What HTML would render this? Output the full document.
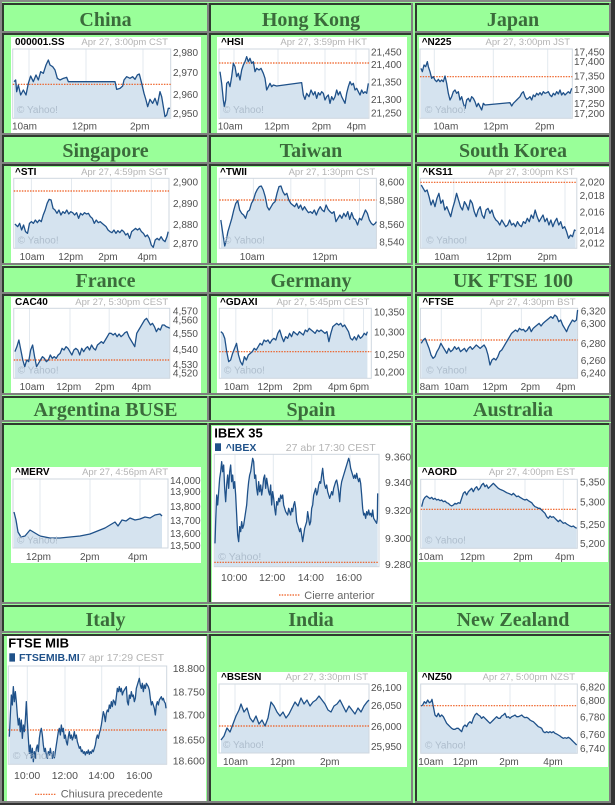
<!DOCTYPE html>
<html><head><meta charset="utf-8">
<style>
html,body{margin:0;padding:0;background:#99ff99;}
svg{display:block}
.hd{font:bold 20px "Liberation Serif",serif;fill:#3b6b3b;text-anchor:middle}
.sym{font:bold 10px "Liberation Sans",sans-serif;fill:#000}
.dt{font:9.5px "Liberation Sans",sans-serif;fill:#b4b4b4;text-anchor:end}
.ax{font:10px "Liberation Sans",sans-serif;fill:#505050}
.ax2{font:10.5px "Liberation Sans",sans-serif;fill:#505050}
.wm{font:10px "Liberation Sans",sans-serif;fill:#aebdcc}
.fl{fill:#d5e3ef}
.ln{fill:none;stroke:#1f5189;stroke-width:1.3;stroke-linejoin:round;vector-effect:non-scaling-stroke}
.gr{stroke:#e3e9ef;stroke-width:1}
.bd{fill:none;stroke:#cfd7df;stroke-width:1}
.rd{stroke:#ee5a1c;stroke-width:1.2;stroke-dasharray:1.5 1.2}
.big{font:bold 13px "Liberation Sans",sans-serif;fill:#000}
.bsym{font:bold 10.5px "Liberation Sans",sans-serif;fill:#1f5189}
.lg{font:11px "Liberation Sans",sans-serif;fill:#666}
</style></head>
<body>
<svg width="615" height="805" viewBox="0 0 615 805" xmlns="http://www.w3.org/2000/svg">
<!-- outer frame -->
<rect x="0" y="0" width="615" height="805" fill="#333"/>
<rect x="0" y="0" width="611" height="803" fill="#888"/>
<rect x="2" y="2" width="609" height="801" fill="#99ff99"/>

<!-- cells column 1 -->
<g>
<rect x="2" y="3" width="207" height="30" fill="#808080"/><rect x="2" y="3" width="205" height="28" fill="#2f3b2f"/><rect x="4" y="5" width="203" height="26" fill="#99ff99"/>
<rect x="2" y="33" width="207" height="102" fill="#808080"/><rect x="2" y="33" width="205" height="100" fill="#2f3b2f"/><rect x="4" y="35" width="203" height="98" fill="#99ff99"/>
<rect x="2" y="135" width="207" height="29" fill="#808080"/><rect x="2" y="135" width="205" height="27" fill="#2f3b2f"/><rect x="4" y="137" width="203" height="25" fill="#99ff99"/>
<rect x="2" y="164" width="207" height="101" fill="#808080"/><rect x="2" y="164" width="205" height="99" fill="#2f3b2f"/><rect x="4" y="166" width="203" height="97" fill="#99ff99"/>
<rect x="2" y="266" width="207" height="28" fill="#808080"/><rect x="2" y="266" width="205" height="26" fill="#2f3b2f"/><rect x="4" y="268" width="203" height="24" fill="#99ff99"/>
<rect x="2" y="294" width="207" height="101" fill="#808080"/><rect x="2" y="294" width="205" height="99" fill="#2f3b2f"/><rect x="4" y="296" width="203" height="97" fill="#99ff99"/>
<rect x="2" y="396" width="207" height="26" fill="#808080"/><rect x="2" y="396" width="205" height="24" fill="#2f3b2f"/><rect x="4" y="398" width="203" height="22" fill="#99ff99"/>
<rect x="2" y="423" width="207" height="181" fill="#808080"/><rect x="2" y="423" width="205" height="179" fill="#2f3b2f"/><rect x="4" y="425" width="203" height="177" fill="#99ff99"/>
<rect x="2" y="605" width="207" height="28" fill="#808080"/><rect x="2" y="605" width="205" height="26" fill="#2f3b2f"/><rect x="4" y="607" width="203" height="24" fill="#99ff99"/>
<rect x="2" y="634" width="207" height="169" fill="#808080"/><rect x="2" y="634" width="205" height="167" fill="#2f3b2f"/><rect x="4" y="636" width="203" height="165" fill="#99ff99"/>
</g>
<!-- cells column 2 -->
<g>
<rect x="209" y="3" width="204" height="30" fill="#808080"/><rect x="209" y="3" width="202" height="28" fill="#2f3b2f"/><rect x="211" y="5" width="200" height="26" fill="#99ff99"/>
<rect x="209" y="33" width="204" height="102" fill="#808080"/><rect x="209" y="33" width="202" height="100" fill="#2f3b2f"/><rect x="211" y="35" width="200" height="98" fill="#99ff99"/>
<rect x="209" y="135" width="204" height="29" fill="#808080"/><rect x="209" y="135" width="202" height="27" fill="#2f3b2f"/><rect x="211" y="137" width="200" height="25" fill="#99ff99"/>
<rect x="209" y="164" width="204" height="101" fill="#808080"/><rect x="209" y="164" width="202" height="99" fill="#2f3b2f"/><rect x="211" y="166" width="200" height="97" fill="#99ff99"/>
<rect x="209" y="266" width="204" height="28" fill="#808080"/><rect x="209" y="266" width="202" height="26" fill="#2f3b2f"/><rect x="211" y="268" width="200" height="24" fill="#99ff99"/>
<rect x="209" y="294" width="204" height="101" fill="#808080"/><rect x="209" y="294" width="202" height="99" fill="#2f3b2f"/><rect x="211" y="296" width="200" height="97" fill="#99ff99"/>
<rect x="209" y="396" width="204" height="26" fill="#808080"/><rect x="209" y="396" width="202" height="24" fill="#2f3b2f"/><rect x="211" y="398" width="200" height="22" fill="#99ff99"/>
<rect x="209" y="423" width="204" height="181" fill="#808080"/><rect x="209" y="423" width="202" height="179" fill="#2f3b2f"/><rect x="211" y="425" width="200" height="177" fill="#99ff99"/>
<rect x="209" y="605" width="204" height="28" fill="#808080"/><rect x="209" y="605" width="202" height="26" fill="#2f3b2f"/><rect x="211" y="607" width="200" height="24" fill="#99ff99"/>
<rect x="209" y="634" width="204" height="169" fill="#808080"/><rect x="209" y="634" width="202" height="167" fill="#2f3b2f"/><rect x="211" y="636" width="200" height="165" fill="#99ff99"/>
</g>
<!-- cells column 3 -->
<g>
<rect x="415" y="3" width="196" height="30" fill="#808080"/><rect x="415" y="3" width="194" height="28" fill="#2f3b2f"/><rect x="417" y="5" width="192" height="26" fill="#99ff99"/>
<rect x="415" y="33" width="196" height="102" fill="#808080"/><rect x="415" y="33" width="194" height="100" fill="#2f3b2f"/><rect x="417" y="35" width="192" height="98" fill="#99ff99"/>
<rect x="415" y="135" width="196" height="29" fill="#808080"/><rect x="415" y="135" width="194" height="27" fill="#2f3b2f"/><rect x="417" y="137" width="192" height="25" fill="#99ff99"/>
<rect x="415" y="164" width="196" height="101" fill="#808080"/><rect x="415" y="164" width="194" height="99" fill="#2f3b2f"/><rect x="417" y="166" width="192" height="97" fill="#99ff99"/>
<rect x="415" y="266" width="196" height="28" fill="#808080"/><rect x="415" y="266" width="194" height="26" fill="#2f3b2f"/><rect x="417" y="268" width="192" height="24" fill="#99ff99"/>
<rect x="415" y="294" width="196" height="101" fill="#808080"/><rect x="415" y="294" width="194" height="99" fill="#2f3b2f"/><rect x="417" y="296" width="192" height="97" fill="#99ff99"/>
<rect x="415" y="396" width="196" height="26" fill="#808080"/><rect x="415" y="396" width="194" height="24" fill="#2f3b2f"/><rect x="417" y="398" width="192" height="22" fill="#99ff99"/>
<rect x="415" y="423" width="196" height="181" fill="#808080"/><rect x="415" y="423" width="194" height="179" fill="#2f3b2f"/><rect x="417" y="425" width="192" height="177" fill="#99ff99"/>
<rect x="415" y="605" width="196" height="28" fill="#808080"/><rect x="415" y="605" width="194" height="26" fill="#2f3b2f"/><rect x="417" y="607" width="192" height="24" fill="#99ff99"/>
<rect x="415" y="634" width="196" height="169" fill="#808080"/><rect x="415" y="634" width="194" height="167" fill="#2f3b2f"/><rect x="417" y="636" width="192" height="165" fill="#99ff99"/>
</g>

<!-- headers -->
<text class="hd" x="105.5" y="26">China</text>
<text class="hd" x="311" y="26">Hong Kong</text>
<text class="hd" x="513" y="26">Japan</text>
<text class="hd" x="105.5" y="157">Singapore</text>
<text class="hd" x="311" y="157">Taiwan</text>
<text class="hd" x="513" y="157">South Korea</text>
<text class="hd" x="105.5" y="287">France</text>
<text class="hd" x="311" y="287">Germany</text>
<text class="hd" x="513" y="287">UK FTSE 100</text>
<text class="hd" x="105.5" y="416">Argentina BUSE</text>
<text class="hd" x="311" y="416">Spain</text>
<text class="hd" x="513" y="416">Australia</text>
<text class="hd" x="105.5" y="626">Italy</text>
<text class="hd" x="311" y="626">India</text>
<text class="hd" x="513" y="626">New Zealand</text>

<!-- ============ CHINA ============ -->
<rect x="11" y="37" width="190" height="96" fill="#fff"/>
<line class="gr" x1="29" y1="49" x2="29" y2="118"/><line class="gr" x1="86" y1="49" x2="86" y2="118"/><line class="gr" x1="143" y1="49" x2="143" y2="118"/>
<g transform="scale(0.333333)"><polygon class="fl" points="42,355 42,245 47,240 50,275 55,255 62,285 70,270 78,285 85,250 92,228 100,245 108,225 115,240 122,215 130,220 138,195 145,180 150,195 158,200 165,210 172,235 180,240 190,235 200,232 205,245 215,245 345,245 350,268 360,265 368,258 372,240 380,230 390,235 398,230 405,238 412,225 418,222 425,250 432,280 438,300 443,320 450,298 458,310 465,295 472,315 480,275 485,290 490,320 495,350 500,345 505,325 510,325 510,355"/></g>
<rect class="bd" x="12.7" y="49" width="158" height="69.3"/>
<line class="rd" x1="12.7" y1="84.3" x2="170.7" y2="84.3"/>
<g transform="scale(0.333333)"><polyline class="ln" points="42,245 47,240 50,275 55,255 62,285 70,270 78,285 85,250 92,228 100,245 108,225 115,240 122,215 130,220 138,195 145,180 150,195 158,200 165,210 172,235 180,240 190,235 200,232 205,245 215,245 345,245 350,268 360,265 368,258 372,240 380,230 390,235 398,230 405,238 412,225 418,222 425,250 432,280 438,300 443,320 450,298 458,310 465,295 472,315 480,275 485,290 490,320 495,350 500,345 505,325 510,325"/></g>
<text class="sym" x="15" y="45">000001.SS</text>
<text class="dt" x="168" y="45">Apr 27, 3:00pm CST</text>
<text class="ax" x="173" y="56">2,980</text><text class="ax" x="173" y="76">2,970</text><text class="ax" x="173" y="98">2,960</text><text class="ax" x="173" y="117">2,950</text>
<text class="ax" x="12" y="129.5">10am</text><text class="ax" x="72" y="129.5">12pm</text><text class="ax" x="130" y="129.5">2pm</text>
<text class="wm" x="17" y="113">© Yahoo!</text>

<!-- ============ HONG KONG ============ -->
<rect x="217" y="37" width="190" height="96" fill="#fff"/>
<line class="gr" x1="234" y1="49" x2="234" y2="118"/><line class="gr" x1="278" y1="49" x2="278" y2="118"/><line class="gr" x1="325" y1="49" x2="325" y2="118"/><line class="gr" x1="356" y1="49" x2="356" y2="118"/>
<g transform="translate(205,0) scale(0.333333)"><polygon class="fl" points="45,355 45,215 50,250 55,300 58,320 62,300 65,250 70,245 75,260 80,230 85,190 90,200 95,230 100,220 105,240 110,210 115,195 120,185 125,170 130,185 135,175 140,190 145,185 150,215 155,205 162,210 168,205 175,220 180,235 185,270 190,260 195,250 200,260 205,255 215,258 290,248 295,285 300,298 305,280 312,290 318,270 325,285 330,275 335,295 340,278 345,285 350,275 355,280 360,300 365,290 370,285 375,310 380,290 385,300 390,290 395,270 400,285 405,275 410,290 415,300 420,310 425,280 430,260 435,245 440,255 445,250 450,270 455,265 460,275 465,285 470,270 475,280 480,275 485,280 490,250 490,355"/></g>
<rect class="bd" x="219" y="49" width="150" height="69.3"/>
<line class="rd" x1="219" y1="63" x2="369" y2="63"/>
<g transform="translate(205,0) scale(0.333333)"><polyline class="ln" points="45,215 50,250 55,300 58,320 62,300 65,250 70,245 75,260 80,230 85,190 90,200 95,230 100,220 105,240 110,210 115,195 120,185 125,170 130,185 135,175 140,190 145,185 150,215 155,205 162,210 168,205 175,220 180,235 185,270 190,260 195,250 200,260 205,255 215,258 290,248 295,285 300,298 305,280 312,290 318,270 325,285 330,275 335,295 340,278 345,285 350,275 355,280 360,300 365,290 370,285 375,310 380,290 385,300 390,290 395,270 400,285 405,275 410,290 415,300 420,310 425,280 430,260 435,245 440,255 445,250 450,270 455,265 460,275 465,285 470,270 475,280 480,275 485,280 490,250"/></g>
<text class="sym" x="221" y="45">^HSI</text>
<text class="dt" x="367" y="45">Apr 27, 3:59pm HKT</text>
<text class="ax" x="371" y="55.5">21,450</text><text class="ax" x="371" y="68">21,400</text><text class="ax" x="371" y="85.5">21,350</text><text class="ax" x="371" y="103">21,300</text><text class="ax" x="371" y="116.5">21,250</text>
<text class="ax" x="217.7" y="129.5">10am</text><text class="ax" x="264.3" y="129.5">12pm</text><text class="ax" x="311.7" y="129.5">2pm</text><text class="ax" x="346.7" y="129.5">4pm</text>
<text class="wm" x="223" y="113">© Yahoo!</text>

<!-- ============ JAPAN ============ -->
<rect x="419" y="37" width="190" height="96" fill="#fff"/>
<line class="gr" x1="434.3" y1="49" x2="434.3" y2="118"/><line class="gr" x1="493.3" y1="49" x2="493.3" y2="118"/><line class="gr" x1="547.7" y1="49" x2="547.7" y2="118"/>
<g transform="translate(405,0) scale(0.333333)"><polygon class="fl" points="48,355 48,205 52,215 57,195 62,200 67,185 70,200 75,215 80,235 85,230 90,240 95,245 100,238 105,245 110,240 115,245 120,228 125,250 130,280 135,300 140,290 145,275 150,270 155,280 160,275 165,300 170,290 175,310 180,325 185,300 190,295 195,305 200,290 205,295 210,305 215,320 220,310 225,320 230,330 235,310 240,315 315,308 320,318 325,310 330,305 335,300 340,295 345,290 350,280 355,275 360,290 365,298 370,295 375,290 380,300 385,285 390,290 395,280 400,285 405,278 410,285 415,275 420,280 425,278 430,275 435,285 440,290 445,280 450,285 455,275 460,282 465,270 470,285 475,278 480,285 485,280 490,275 495,280 500,265 500,355"/></g>
<rect class="bd" x="420" y="49" width="152.3" height="69.3"/>
<line class="rd" x1="420" y1="76.7" x2="572.3" y2="76.7"/>
<g transform="translate(405,0) scale(0.333333)"><polyline class="ln" points="48,205 52,215 57,195 62,200 67,185 70,200 75,215 80,235 85,230 90,240 95,245 100,238 105,245 110,240 115,245 120,228 125,250 130,280 135,300 140,290 145,275 150,270 155,280 160,275 165,300 170,290 175,310 180,325 185,300 190,295 195,305 200,290 205,295 210,305 215,320 220,310 225,320 230,330 235,310 240,315 315,308 320,318 325,310 330,305 335,300 340,295 345,290 350,280 355,275 360,290 365,298 370,295 375,290 380,300 385,285 390,290 395,280 400,285 405,278 410,285 415,275 420,280 425,278 430,275 435,285 440,290 445,280 450,285 455,275 460,282 465,270 470,285 475,278 480,285 485,280 490,275 495,280 500,265"/></g>
<text class="sym" x="421.7" y="45">^N225</text>
<text class="dt" x="570" y="45">Apr 27, 3:00pm JST</text>
<text class="ax" x="574" y="55.5">17,450</text><text class="ax" x="574" y="64.8">17,400</text><text class="ax" x="574" y="79.5">17,350</text><text class="ax" x="574" y="93">17,300</text><text class="ax" x="574" y="107">17,250</text><text class="ax" x="574" y="117">17,200</text>
<text class="ax" x="433.3" y="129.5">10am</text><text class="ax" x="483.3" y="129.5">12pm</text><text class="ax" x="535" y="129.5">2pm</text>
<text class="wm" x="425" y="113">© Yahoo!</text>

<!-- ============ SINGAPORE ============ -->
<rect x="11" y="167" width="190" height="96" fill="#fff"/>
<line class="gr" x1="31.4" y1="178.3" x2="31.4" y2="248.3"/><line class="gr" x1="71.5" y1="178.3" x2="71.5" y2="248.3"/><line class="gr" x1="111.2" y1="178.3" x2="111.2" y2="248.3"/><line class="gr" x1="151.3" y1="178.3" x2="151.3" y2="248.3"/>
<g transform="translate(0,160) scale(0.392927,0.333333)"><polygon class="fl" points="38,265 38,192 45,200 50,190 55,210 60,195 65,215 70,220 75,190 80,185 85,190 90,180 95,188 100,180 105,185 110,165 115,150 120,130 125,118 130,120 135,145 140,150 145,160 150,150 155,165 160,155 165,160 170,150 175,162 180,155 185,158 190,165 195,158 200,175 205,160 210,165 215,158 220,162 225,160 230,170 235,175 240,190 245,180 250,188 255,185 260,190 265,195 270,200 275,210 280,215 285,218 290,210 295,220 300,212 305,218 310,210 315,215 320,225 325,220 330,235 335,215 340,210 345,205 350,210 355,205 360,215 365,220 370,230 375,225 380,235 385,255 390,262 395,240 400,235 405,240 410,230 415,240 420,245 425,230 428,215 428,265"/></g>
<rect class="bd" x="13.75" y="178.3" width="155.25" height="70"/>
<line class="rd" x1="13.75" y1="191" x2="169" y2="191"/>
<g transform="translate(0,160) scale(0.392927,0.333333)"><polyline class="ln" points="38,192 45,200 50,190 55,210 60,195 65,215 70,220 75,190 80,185 85,190 90,180 95,188 100,180 105,185 110,165 115,150 120,130 125,118 130,120 135,145 140,150 145,160 150,150 155,165 160,155 165,160 170,150 175,162 180,155 185,158 190,165 195,158 200,175 205,160 210,165 215,158 220,162 225,160 230,170 235,175 240,190 245,180 250,188 255,185 260,190 265,195 270,200 275,210 280,215 285,218 290,210 295,220 300,212 305,218 310,210 315,215 320,225 325,220 330,235 335,215 340,210 345,205 350,210 355,205 360,215 365,220 370,230 375,225 380,235 385,255 390,262 395,240 400,235 405,240 410,230 415,240 420,245 425,230 428,215"/></g>
<text class="sym" x="15" y="175">^STI</text>
<text class="dt" x="168.2" y="175">Apr 27, 4:59pm SGT</text>
<text class="ax" x="173" y="185.5">2,900</text><text class="ax" x="173" y="207">2,890</text><text class="ax" x="173" y="228">2,880</text><text class="ax" x="173" y="247">2,870</text>
<text class="ax" x="19.6" y="260">10am</text><text class="ax" x="58.2" y="260">12pm</text><text class="ax" x="98.2" y="260">2pm</text><text class="ax" x="137.5" y="260">4pm</text>
<text class="wm" x="17.7" y="243.5">© Yahoo!</text>

<!-- ============ TAIWAN ============ -->
<rect x="217" y="167" width="190" height="96" fill="#fff"/>
<line class="gr" x1="253.4" y1="178.3" x2="253.4" y2="248.3"/><line class="gr" x1="290.8" y1="178.3" x2="290.8" y2="248.3"/><line class="gr" x1="325" y1="178.3" x2="325" y2="248.3"/><line class="gr" x1="359.5" y1="178.3" x2="359.5" y2="248.3"/>
<g transform="translate(0,160) scale(0.392927,0.333333)"><polygon class="fl" points="562,265 562,180 567,220 572,258 576,240 580,215 585,195 590,175 595,150 600,130 605,122 610,150 615,160 620,165 625,175 630,155 635,150 640,130 645,120 650,100 655,88 660,80 665,78 670,90 675,110 680,140 685,150 690,140 695,130 700,125 705,100 710,80 715,78 720,95 725,105 730,100 735,120 740,130 745,135 750,140 755,130 760,145 765,135 770,150 775,140 780,150 785,158 790,155 795,160 800,150 805,165 810,150 815,140 820,150 825,155 830,135 835,148 840,155 845,160 850,155 855,185 860,175 865,165 870,175 875,160 880,170 885,155 890,178 895,158 900,175 905,180 910,195 915,175 920,180 925,165 930,150 935,160 940,180 945,190 950,195 955,190 958,185 958,265"/></g>
<rect class="bd" x="219.3" y="178.3" width="157.1" height="70"/>
<line class="rd" x1="219.3" y1="200" x2="376.4" y2="200"/>
<g transform="translate(0,160) scale(0.392927,0.333333)"><polyline class="ln" points="562,180 567,220 572,258 576,240 580,215 585,195 590,175 595,150 600,130 605,122 610,150 615,160 620,165 625,175 630,155 635,150 640,130 645,120 650,100 655,88 660,80 665,78 670,90 675,110 680,140 685,150 690,140 695,130 700,125 705,100 710,80 715,78 720,95 725,105 730,100 735,120 740,130 745,135 750,140 755,130 760,145 765,135 770,150 775,140 780,150 785,158 790,155 795,160 800,150 805,165 810,150 815,140 820,150 825,155 830,135 835,148 840,155 845,160 850,155 855,185 860,175 865,165 870,175 875,160 880,170 885,155 890,178 895,158 900,175 905,180 910,195 915,175 920,180 925,165 930,150 935,160 940,180 945,190 950,195 955,190 958,185"/></g>
<text class="sym" x="220" y="175">^TWII</text>
<text class="dt" x="375.2" y="175">Apr 27, 1:30pm CST</text>
<text class="ax" x="379.2" y="185.5">8,600</text><text class="ax" x="379.2" y="204">8,580</text><text class="ax" x="379.2" y="228">8,560</text><text class="ax" x="379.2" y="245.5">8,540</text>
<text class="ax" x="239.7" y="260">10am</text><text class="ax" x="312.4" y="260">12pm</text>
<text class="wm" x="224" y="243.5">© Yahoo!</text>

<!-- ============ SOUTH KOREA ============ -->
<rect x="419" y="167" width="190" height="96" fill="#fff"/>
<line class="gr" x1="453.8" y1="178.3" x2="453.8" y2="248.3"/><line class="gr" x1="505" y1="178.3" x2="505" y2="248.3"/><line class="gr" x1="565" y1="178.3" x2="565" y2="248.3"/>
<g transform="translate(0,160) scale(0.392927,0.333333)"><polygon class="fl" points="1072,265 1072,75 1077,85 1082,95 1087,90 1092,110 1097,135 1102,120 1107,140 1112,115 1117,100 1122,130 1127,120 1132,150 1137,140 1142,155 1147,170 1152,145 1157,125 1162,100 1167,120 1172,140 1177,150 1182,125 1187,135 1192,150 1197,120 1202,130 1207,155 1212,170 1217,150 1222,140 1227,165 1232,175 1237,150 1242,145 1247,160 1252,150 1257,170 1262,180 1267,185 1272,195 1277,180 1282,190 1287,200 1292,195 1297,180 1302,195 1307,190 1312,200 1317,185 1322,195 1327,200 1332,185 1337,190 1342,175 1347,185 1352,165 1357,175 1362,150 1367,170 1372,185 1377,175 1382,165 1387,185 1392,175 1397,195 1402,180 1407,200 1412,185 1417,175 1422,195 1427,185 1432,205 1437,200 1442,215 1447,235 1452,225 1457,230 1462,210 1465,212 1465,265"/></g>
<rect class="bd" x="420.4" y="178.3" width="156.4" height="70"/>
<line class="rd" x1="420.4" y1="182.3" x2="576.8" y2="182.3"/>
<g transform="translate(0,160) scale(0.392927,0.333333)"><polyline class="ln" points="1072,75 1077,85 1082,95 1087,90 1092,110 1097,135 1102,120 1107,140 1112,115 1117,100 1122,130 1127,120 1132,150 1137,140 1142,155 1147,170 1152,145 1157,125 1162,100 1167,120 1172,140 1177,150 1182,125 1187,135 1192,150 1197,120 1202,130 1207,155 1212,170 1217,150 1222,140 1227,165 1232,175 1237,150 1242,145 1247,160 1252,150 1257,170 1262,180 1267,185 1272,195 1277,180 1282,190 1287,200 1292,195 1297,180 1302,195 1307,190 1312,200 1317,185 1322,195 1327,200 1332,185 1337,190 1342,175 1347,185 1352,165 1357,175 1362,150 1367,170 1372,185 1377,175 1382,165 1387,185 1392,175 1397,195 1402,180 1407,200 1412,185 1417,175 1422,195 1427,185 1432,205 1437,200 1442,215 1447,235 1452,225 1457,230 1462,210 1465,212"/></g>
<text class="sym" x="422.4" y="175">^KS11</text>
<text class="dt" x="574.5" y="175">Apr 27, 3:00pm KST</text>
<text class="ax" x="579.6" y="185.5">2,020</text><text class="ax" x="579.6" y="199">2,018</text><text class="ax" x="579.6" y="215.5">2,016</text><text class="ax" x="579.6" y="234">2,014</text><text class="ax" x="579.6" y="246.5">2,012</text>
<text class="ax" x="434.2" y="260">10am</text><text class="ax" x="486.4" y="260">12pm</text><text class="ax" x="537.5" y="260">2pm</text>
<text class="wm" x="426.3" y="243.5">© Yahoo!</text>

<!-- ============ FRANCE ============ -->
<rect x="11" y="297" width="190" height="96" fill="#fff"/>
<line class="gr" x1="29.5" y1="308.3" x2="29.5" y2="378.3"/><line class="gr" x1="70" y1="308.3" x2="70" y2="378.3"/><line class="gr" x1="109.2" y1="308.3" x2="109.2" y2="378.3"/><line class="gr" x1="148.5" y1="308.3" x2="148.5" y2="378.3"/>
<g transform="translate(0,290) scale(0.392927,0.333333)"><polygon class="fl" points="38,265 38,185 43,170 48,150 53,180 58,210 63,230 68,210 73,215 78,180 83,165 88,200 93,230 98,220 103,210 108,200 113,205 118,215 123,210 128,195 133,205 138,200 143,205 148,195 153,190 158,175 163,180 168,170 173,175 178,185 183,195 188,180 193,175 198,180 203,195 208,175 213,185 218,175 223,170 228,180 233,165 238,175 243,180 248,165 253,160 258,155 263,160 268,150 273,140 278,130 283,130 288,135 293,130 298,140 303,132 308,140 313,135 318,128 323,125 328,140 333,150 338,160 343,170 348,130 353,120 358,110 363,100 368,90 373,85 378,95 383,105 388,100 393,110 398,125 403,115 408,120 413,105 418,105 423,110 428,112 432,115 432,265"/></g>
<rect class="bd" x="13.75" y="308.3" width="156" height="70"/>
<line class="rd" x1="13.75" y1="360" x2="169.7" y2="360"/>
<g transform="translate(0,290) scale(0.392927,0.333333)"><polyline class="ln" points="38,185 43,170 48,150 53,180 58,210 63,230 68,210 73,215 78,180 83,165 88,200 93,230 98,220 103,210 108,200 113,205 118,215 123,210 128,195 133,205 138,200 143,205 148,195 153,190 158,175 163,180 168,170 173,175 178,185 183,195 188,180 193,175 198,180 203,195 208,175 213,185 218,175 223,170 228,180 233,165 238,175 243,180 248,165 253,160 258,155 263,160 268,150 273,140 278,130 283,130 288,135 293,130 298,140 303,132 308,140 313,135 318,128 323,125 328,140 333,150 338,160 343,170 348,130 353,120 358,110 363,100 368,90 373,85 378,95 383,105 388,100 393,110 398,125 403,115 408,120 413,105 418,105 423,110 428,112 432,115"/></g>
<text class="sym" x="15" y="305">CAC40</text>
<text class="dt" x="168.2" y="305">Apr 27, 5:30pm CEST</text>
<text class="ax" x="172.9" y="314.5">4,570</text><text class="ax" x="172.9" y="323.5">4,560</text><text class="ax" x="172.9" y="337">4,550</text><text class="ax" x="172.9" y="353">4,540</text><text class="ax" x="172.9" y="368">4,530</text><text class="ax" x="172.9" y="376.5">4,520</text>
<text class="ax" x="19.6" y="390">10am</text><text class="ax" x="56.2" y="390">12pm</text><text class="ax" x="95" y="390">2pm</text><text class="ax" x="131.6" y="390">4pm</text>
<text class="wm" x="17.7" y="373.5">© Yahoo!</text>

<!-- ============ GERMANY ============ -->
<rect x="217" y="297" width="190" height="96" fill="#fff"/>
<line class="gr" x1="235.8" y1="308.3" x2="235.8" y2="378.3"/><line class="gr" x1="272.3" y1="308.3" x2="272.3" y2="378.3"/><line class="gr" x1="307.7" y1="308.3" x2="307.7" y2="378.3"/><line class="gr" x1="343.8" y1="308.3" x2="343.8" y2="378.3"/><line class="gr" x1="363.5" y1="308.3" x2="363.5" y2="378.3"/>
<g transform="translate(0,290) scale(0.392927,0.333333)"><polygon class="fl" points="562,265 562,125 567,130 572,145 577,185 582,215 587,210 592,190 597,175 602,160 607,195 612,215 617,225 622,200 627,210 632,195 637,190 642,185 647,175 652,180 657,170 662,160 667,165 672,150 677,155 682,150 687,160 692,150 697,145 702,150 707,130 712,120 717,140 722,155 727,140 732,145 737,130 742,140 747,125 752,130 757,135 762,125 767,130 772,135 777,120 782,125 787,115 792,120 797,125 802,130 807,120 812,125 817,120 822,125 827,130 832,125 837,155 842,130 847,110 852,105 857,100 862,105 867,100 872,110 877,105 882,115 887,125 892,145 897,150 902,140 907,150 912,135 917,145 922,140 927,130 932,135 935,125 935,265"/></g>
<rect class="bd" x="219.3" y="308.3" width="152" height="70"/>
<line class="rd" x1="219.3" y1="351.7" x2="371.3" y2="351.7"/>
<g transform="translate(0,290) scale(0.392927,0.333333)"><polyline class="ln" points="562,125 567,130 572,145 577,185 582,215 587,210 592,190 597,175 602,160 607,195 612,215 617,225 622,200 627,210 632,195 637,190 642,185 647,175 652,180 657,170 662,160 667,165 672,150 677,155 682,150 687,160 692,150 697,145 702,150 707,130 712,120 717,140 722,155 727,140 732,145 737,130 742,140 747,125 752,130 757,135 762,125 767,130 772,135 777,120 782,125 787,115 792,120 797,125 802,130 807,120 812,125 817,120 822,125 827,130 832,125 837,155 842,130 847,110 852,105 857,100 862,105 867,100 872,110 877,105 882,115 887,125 892,145 897,150 902,140 907,150 912,135 917,145 922,140 927,130 932,135 935,125"/></g>
<text class="sym" x="220" y="305">^GDAXI</text>
<text class="dt" x="369.4" y="305">Apr 27, 5:45pm CEST</text>
<text class="ax" x="374" y="315.5">10,350</text><text class="ax" x="374" y="335.5">10,300</text><text class="ax" x="374" y="358">10,250</text><text class="ax" x="374" y="375.5">10,200</text>
<text class="ax" x="224" y="390">10am</text><text class="ax" x="257.4" y="390">12pm</text><text class="ax" x="292.7" y="390">2pm</text><text class="ax" x="328" y="390">4pm</text><text class="ax" x="349.7" y="390">6pm</text>
<text class="wm" x="224" y="373.5">© Yahoo!</text>

<!-- ============ UK ============ -->
<rect x="419" y="297" width="190" height="96" fill="#fff"/>
<line class="gr" x1="441.3" y1="308.3" x2="441.3" y2="378.3"/><line class="gr" x1="481.3" y1="308.3" x2="481.3" y2="378.3"/><line class="gr" x1="521.4" y1="308.3" x2="521.4" y2="378.3"/><line class="gr" x1="560.7" y1="308.3" x2="560.7" y2="378.3"/>
<g transform="translate(0,290) scale(0.392927,0.333333)"><polygon class="fl" points="1072,265 1072,160 1077,150 1082,145 1087,160 1092,175 1097,195 1102,205 1107,200 1112,185 1117,175 1122,160 1127,170 1132,180 1137,190 1142,175 1147,185 1152,180 1157,170 1162,178 1167,172 1172,185 1177,180 1182,175 1187,185 1192,175 1197,170 1202,178 1207,172 1212,165 1217,170 1222,175 1227,170 1232,165 1237,175 1242,195 1247,225 1252,210 1257,205 1262,210 1267,200 1272,185 1277,180 1282,170 1287,160 1292,150 1297,140 1302,130 1307,125 1312,120 1317,125 1322,115 1327,120 1332,118 1337,125 1342,120 1347,110 1352,125 1357,115 1362,110 1367,105 1372,100 1377,108 1382,100 1387,95 1392,90 1397,85 1402,80 1407,85 1412,75 1417,80 1422,95 1427,90 1432,105 1437,115 1442,125 1447,110 1452,100 1457,90 1462,95 1467,90 1470,60 1470,265"/></g>
<rect class="bd" x="420.4" y="308.3" width="157.2" height="70"/>
<line class="rd" x1="420.4" y1="340" x2="577.6" y2="340"/>
<g transform="translate(0,290) scale(0.392927,0.333333)"><polyline class="ln" points="1072,160 1077,150 1082,145 1087,160 1092,175 1097,195 1102,205 1107,200 1112,185 1117,175 1122,160 1127,170 1132,180 1137,190 1142,175 1147,185 1152,180 1157,170 1162,178 1167,172 1172,185 1177,180 1182,175 1187,185 1192,175 1197,170 1202,178 1207,172 1212,165 1217,170 1222,175 1227,170 1232,165 1237,175 1242,195 1247,225 1252,210 1257,205 1262,210 1267,200 1272,185 1277,180 1282,170 1287,160 1292,150 1297,140 1302,130 1307,125 1312,120 1317,125 1322,115 1327,120 1332,118 1337,125 1342,120 1347,110 1352,125 1357,115 1362,110 1367,105 1372,100 1377,108 1382,100 1387,95 1392,90 1397,85 1402,80 1407,85 1412,75 1417,80 1422,95 1427,90 1432,105 1437,115 1442,125 1447,110 1452,100 1457,90 1462,95 1467,90 1470,60"/></g>
<text class="sym" x="422.4" y="305">^FTSE</text>
<text class="dt" x="575.6" y="305">Apr 27, 4:30pm BST</text>
<text class="ax" x="580.7" y="314.5">6,320</text><text class="ax" x="580.7" y="327">6,300</text><text class="ax" x="580.7" y="347">6,280</text><text class="ax" x="580.7" y="364">6,260</text><text class="ax" x="580.7" y="376.5">6,240</text>
<text class="ax" x="419.6" y="390">8am</text><text class="ax" x="444" y="390">10am</text><text class="ax" x="482.5" y="390">12pm</text><text class="ax" x="520.6" y="390">2pm</text><text class="ax" x="556" y="390">4pm</text>
<text class="wm" x="426.3" y="373.5">© Yahoo!</text>

<!-- ============ ARGENTINA ============ -->
<rect x="11" y="467" width="190" height="96" fill="#fff"/>
<line class="gr" x1="40" y1="479" x2="40" y2="548"/><line class="gr" x1="90" y1="479" x2="90" y2="548"/><line class="gr" x1="140" y1="479" x2="140" y2="548"/>
<polygon class="fl" points="14,548 14,512 16,520 18,532 21,537 25,536 30,530 35,533 40,536 50,538 60,538 70,537 80,536 90,534 100,530 105,528 110,525 115,522 118,526 122,520 126,521 130,518 135,520 140,519 145,517 150,518 155,515 160,514 162,516 162,548"/>
<rect class="bd" x="13" y="479" width="155" height="69"/>
<polyline class="ln" points="14,512 16,520 18,532 21,537 25,536 30,530 35,533 40,536 50,538 60,538 70,537 80,536 90,534 100,530 105,528 110,525 115,522 118,526 122,520 126,521 130,518 135,520 140,519 145,517 150,518 155,515 160,514 162,516"/>
<text class="sym" x="15" y="475">^MERV</text>
<text class="dt" x="168" y="475">Apr 27, 4:56pm ART</text>
<text class="ax" x="170" y="484">14,000</text><text class="ax" x="170" y="495">13,900</text><text class="ax" x="170" y="510">13,800</text><text class="ax" x="170" y="524">13,700</text><text class="ax" x="170" y="537">13,600</text><text class="ax" x="170" y="549">13,500</text>
<text class="ax" x="26" y="560">12pm</text><text class="ax" x="80" y="560">2pm</text><text class="ax" x="128" y="560">4pm</text>
<text class="wm" x="17" y="543.5">© Yahoo!</text>

<!-- ============ SPAIN ============ -->
<rect x="212" y="426" width="198" height="176" fill="#fff"/>
<line class="gr" x1="235" y1="454.3" x2="235" y2="566.7"/><line class="gr" x1="273.3" y1="454.3" x2="273.3" y2="566.7"/><line class="gr" x1="311.7" y1="454.3" x2="311.7" y2="566.7"/><line class="gr" x1="350" y1="454.3" x2="350" y2="566.7"/>
<g transform="translate(205,395) scale(0.333333)"><polygon class="fl" points="30,515 30,445 32,380 35,300 38,330 41,290 44,250 47,230 50,200 53,230 56,210 59,280 62,320 65,270 68,240 71,280 74,230 77,210 80,260 83,240 86,280 89,260 92,300 95,360 98,420 101,440 104,395 107,410 110,380 113,400 116,390 119,370 122,350 125,330 128,290 131,260 134,240 137,230 140,210 143,190 146,200 149,250 152,240 155,280 158,300 161,260 164,290 167,270 170,300 173,280 176,250 179,240 182,280 185,250 188,270 191,290 194,300 197,270 200,330 203,290 206,310 209,340 212,360 215,320 218,330 221,310 224,320 227,300 230,310 233,300 236,330 239,340 242,350 245,355 248,360 251,340 254,350 257,360 260,340 263,350 266,330 269,320 272,340 275,380 278,390 281,400 284,410 287,400 290,420 293,440 296,420 299,400 302,390 305,380 308,350 311,370 314,390 317,380 320,340 323,330 326,300 329,290 332,280 335,300 338,290 341,270 344,260 347,265 350,240 353,220 356,250 359,270 362,280 365,270 368,290 371,300 374,310 377,300 380,290 383,300 386,280 389,270 392,260 395,255 398,270 401,290 404,320 407,280 410,260 413,250 416,240 419,230 422,220 425,210 428,200 431,190 434,200 437,220 440,230 443,240 446,250 449,240 452,250 455,235 458,250 461,260 464,250 467,265 470,300 473,340 476,360 479,355 482,370 485,350 488,360 491,345 494,360 497,355 500,365 503,345 506,370 509,375 512,380 515,385 517,370 518,295 518,515"/></g>
<rect class="bd" x="214.3" y="454.3" width="164.7" height="112.4"/>
<line class="rd" x1="214.3" y1="562.3" x2="379" y2="562.3"/>
<g transform="translate(205,395) scale(0.333333)"><polyline class="ln" points="30,445 32,380 35,300 38,330 41,290 44,250 47,230 50,200 53,230 56,210 59,280 62,320 65,270 68,240 71,280 74,230 77,210 80,260 83,240 86,280 89,260 92,300 95,360 98,420 101,440 104,395 107,410 110,380 113,400 116,390 119,370 122,350 125,330 128,290 131,260 134,240 137,230 140,210 143,190 146,200 149,250 152,240 155,280 158,300 161,260 164,290 167,270 170,300 173,280 176,250 179,240 182,280 185,250 188,270 191,290 194,300 197,270 200,330 203,290 206,310 209,340 212,360 215,320 218,330 221,310 224,320 227,300 230,310 233,300 236,330 239,340 242,350 245,355 248,360 251,340 254,350 257,360 260,340 263,350 266,330 269,320 272,340 275,380 278,390 281,400 284,410 287,400 290,420 293,440 296,420 299,400 302,390 305,380 308,350 311,370 314,390 317,380 320,340 323,330 326,300 329,290 332,280 335,300 338,290 341,270 344,260 347,265 350,240 353,220 356,250 359,270 362,280 365,270 368,290 371,300 374,310 377,300 380,290 383,300 386,280 389,270 392,260 395,255 398,270 401,290 404,320 407,280 410,260 413,250 416,240 419,230 422,220 425,210 428,200 431,190 434,200 437,220 440,230 443,240 446,250 449,240 452,250 455,235 458,250 461,260 464,250 467,265 470,300 473,340 476,360 479,355 482,370 485,350 488,360 491,345 494,360 497,355 500,365 503,345 506,370 509,375 512,380 515,385 517,370 518,295"/></g>
<text class="big" x="214.3" y="437.7">IBEX 35</text>
<rect x="215" y="443.3" width="6" height="7.7" fill="#1f5189"/>
<text class="bsym" x="225.7" y="451">^IBEX</text>
<text class="dt" x="375.7" y="451" style="font-size:10.5px">27 abr 17:30 CEST</text>
<text class="ax2" x="385" y="460.5">9.360</text><text class="ax2" x="385" y="486">9.340</text><text class="ax2" x="385" y="514">9.320</text><text class="ax2" x="385" y="542">9.300</text><text class="ax2" x="385" y="568">9.280</text>
<text class="ax2" x="221" y="581">10:00</text><text class="ax2" x="259" y="581">12:00</text><text class="ax2" x="297.7" y="581">14:00</text><text class="ax2" x="335.7" y="581">16:00</text>
<line class="rd" x1="279" y1="595" x2="300" y2="595"/>
<text class="lg" x="304.3" y="599">Cierre anterior</text>
<text class="wm" x="218.3" y="560" style="font-size:10.5px">© Yahoo!</text>

<!-- ============ AUSTRALIA ============ -->
<rect x="418" y="467" width="190" height="95" fill="#fff"/>
<line class="gr" x1="435" y1="479.3" x2="435" y2="548.3"/><line class="gr" x1="480" y1="479.3" x2="480" y2="548.3"/><line class="gr" x1="525" y1="479.3" x2="525" y2="548.3"/><line class="gr" x1="563.3" y1="479.3" x2="563.3" y2="548.3"/>
<g transform="translate(410,420) scale(0.333333)"><polygon class="fl" points="35,385 35,260 40,240 45,232 50,228 55,232 60,236 65,232 70,238 75,235 80,240 85,238 90,242 95,240 100,245 105,243 110,248 115,250 120,255 125,258 130,255 135,250 140,252 145,248 150,250 155,235 160,220 165,215 170,225 175,215 180,210 185,205 190,215 195,205 200,200 205,210 210,205 215,195 220,190 225,200 230,195 235,205 240,200 245,195 250,190 255,195 260,200 265,205 270,208 275,210 280,212 285,215 290,218 295,220 300,222 305,225 310,220 315,225 320,230 325,228 330,232 335,235 340,238 345,240 350,238 355,242 360,245 365,248 370,255 375,260 380,262 385,265 390,265 395,270 400,275 405,280 410,290 415,295 420,288 425,292 430,290 435,295 440,300 445,305 450,300 455,305 460,310 465,308 470,312 475,315 480,318 485,320 490,318 495,322 500,325 500,385"/></g>
<rect class="bd" x="420.7" y="479.3" width="156.6" height="69"/>
<line class="rd" x1="420.7" y1="509.3" x2="577.3" y2="509.3"/>
<g transform="translate(410,420) scale(0.333333)"><polyline class="ln" points="35,260 40,240 45,232 50,228 55,232 60,236 65,232 70,238 75,235 80,240 85,238 90,242 95,240 100,245 105,243 110,248 115,250 120,255 125,258 130,255 135,250 140,252 145,248 150,250 155,235 160,220 165,215 170,225 175,215 180,210 185,205 190,215 195,205 200,200 205,210 210,205 215,195 220,190 225,200 230,195 235,205 240,200 245,195 250,190 255,195 260,200 265,205 270,208 275,210 280,212 285,215 290,218 295,220 300,222 305,225 310,220 315,225 320,230 325,228 330,232 335,235 340,238 345,240 350,238 355,242 360,245 365,248 370,255 375,260 380,262 385,265 390,265 395,270 400,275 405,280 410,290 415,295 420,288 425,292 430,290 435,295 440,300 445,305 450,300 455,305 460,310 465,308 470,312 475,315 480,318 485,320 490,318 495,322 500,325"/></g>
<text class="sym" x="421.7" y="475">^AORD</text>
<text class="dt" x="575" y="475">Apr 27, 4:00pm EST</text>
<text class="ax" x="580" y="485.5">5,350</text><text class="ax" x="580" y="505.5">5,300</text><text class="ax" x="580" y="528">5,250</text><text class="ax" x="580" y="547">5,200</text>
<text class="ax" x="418.3" y="560">10am</text><text class="ax" x="460" y="560">12pm</text><text class="ax" x="513.3" y="560">2pm</text><text class="ax" x="555" y="560">4pm</text>
<text class="wm" x="425" y="543.5">© Yahoo!</text>

<!-- ============ ITALY ============ -->
<rect x="7" y="636" width="199" height="165" fill="#fff"/>
<line class="gr" x1="27.3" y1="666" x2="27.3" y2="764.3"/><line class="gr" x1="65" y1="666" x2="65" y2="764.3"/><line class="gr" x1="101.7" y1="666" x2="101.7" y2="764.3"/><line class="gr" x1="139.3" y1="666" x2="139.3" y2="764.3"/>
<g transform="translate(0,605) scale(0.333333)"><polygon class="fl" points="28,478 28,395 31,330 34,270 37,300 40,245 43,290 46,260 49,290 52,330 55,360 58,340 61,380 64,345 67,400 70,360 73,380 76,345 79,290 82,350 85,400 88,445 91,420 94,460 97,430 100,470 103,440 106,460 109,430 112,420 115,440 118,400 121,380 124,370 127,390 130,420 133,440 136,430 139,450 142,460 145,440 148,450 151,430 154,450 157,460 160,440 163,460 166,440 169,420 172,400 175,380 178,370 181,390 184,360 187,380 190,370 193,400 196,390 199,410 202,420 205,395 208,380 211,400 214,390 217,405 220,395 223,380 226,400 229,390 232,410 235,420 238,430 241,425 244,440 247,435 250,445 253,440 256,450 259,440 262,445 265,435 268,448 271,440 274,445 277,435 280,440 283,430 286,420 289,400 292,390 295,400 298,385 301,375 304,360 307,340 310,320 313,330 316,350 319,325 322,315 325,320 328,300 331,310 334,290 337,305 340,285 343,290 346,300 349,275 352,250 355,260 358,245 361,260 364,250 367,270 370,260 373,255 376,250 379,245 382,290 385,300 388,270 391,280 394,260 397,275 400,270 403,290 406,280 409,250 412,240 415,230 418,220 421,240 424,250 427,235 430,260 433,240 436,250 439,235 442,240 445,245 448,255 451,280 454,300 457,290 460,300 463,310 466,330 469,300 472,290 475,300 478,285 481,280 484,275 487,285 490,280 493,290 496,295 498,310 498,478"/></g>
<rect class="bd" x="8.3" y="666" width="158.4" height="98.3"/>
<line class="rd" x1="8.3" y1="730" x2="166.7" y2="730"/>
<g transform="translate(0,605) scale(0.333333)"><polyline class="ln" points="28,395 31,330 34,270 37,300 40,245 43,290 46,260 49,290 52,330 55,360 58,340 61,380 64,345 67,400 70,360 73,380 76,345 79,290 82,350 85,400 88,445 91,420 94,460 97,430 100,470 103,440 106,460 109,430 112,420 115,440 118,400 121,380 124,370 127,390 130,420 133,440 136,430 139,450 142,460 145,440 148,450 151,430 154,450 157,460 160,440 163,460 166,440 169,420 172,400 175,380 178,370 181,390 184,360 187,380 190,370 193,400 196,390 199,410 202,420 205,395 208,380 211,400 214,390 217,405 220,395 223,380 226,400 229,390 232,410 235,420 238,430 241,425 244,440 247,435 250,445 253,440 256,450 259,440 262,445 265,435 268,448 271,440 274,445 277,435 280,440 283,430 286,420 289,400 292,390 295,400 298,385 301,375 304,360 307,340 310,320 313,330 316,350 319,325 322,315 325,320 328,300 331,310 334,290 337,305 340,285 343,290 346,300 349,275 352,250 355,260 358,245 361,260 364,250 367,270 370,260 373,255 376,250 379,245 382,290 385,300 388,270 391,280 394,260 397,275 400,270 403,290 406,280 409,250 412,240 415,230 418,220 421,240 424,250 427,235 430,260 433,240 436,250 439,235 442,240 445,245 448,255 451,280 454,300 457,290 460,300 463,310 466,330 469,300 472,290 475,300 478,285 481,280 484,275 487,285 490,280 493,290 496,295 498,310"/></g>
<text class="big" x="8.3" y="647.7">FTSE MIB</text>
<text class="dt" x="164" y="661" style="font-size:10.5px">27 apr 17:29 CEST</text>
<rect x="8" y="652" width="72" height="11" fill="#fff"/>
<rect x="9.3" y="653.3" width="5.7" height="8.3" fill="#1f5189"/>
<text class="bsym" x="19" y="661">FTSEMIB.MI</text>
<text class="ax2" x="172.7" y="672">18.800</text><text class="ax2" x="172.7" y="695.5">18.750</text><text class="ax2" x="172.7" y="718.5">18.700</text><text class="ax2" x="172.7" y="743.5">18.650</text><text class="ax2" x="172.7" y="764.5">18.600</text>
<text class="ax2" x="14" y="779">10:00</text><text class="ax2" x="51.7" y="779">12:00</text><text class="ax2" x="88.3" y="779">14:00</text><text class="ax2" x="126" y="779">16:00</text>
<line class="rd" x1="35" y1="794.3" x2="56" y2="794.3"/>
<text class="lg" x="60.7" y="797.5">Chiusura precedente</text>
<text class="wm" x="12.7" y="759" style="font-size:10.5px">© Yahoo!</text>

<!-- ============ INDIA ============ -->
<rect x="217" y="672" width="190" height="95" fill="#fff"/>
<line class="gr" x1="235" y1="684" x2="235" y2="753"/><line class="gr" x1="280" y1="684" x2="280" y2="753"/><line class="gr" x1="325" y1="684" x2="325" y2="753"/>
<polygon class="fl" points="221,753 221,740 224,736 227,728 230,732 233,724 236,716 239,710 241,704 244,712 247,708 250,718 253,722 256,716 259,724 262,720 265,726 268,718 271,702 274,706 277,712 280,716 283,712 286,718 289,714 292,708 295,702 298,706 301,698 304,704 307,700 310,706 313,702 316,700 319,696 322,700 325,704 328,710 331,712 334,706 337,704 340,700 343,706 346,712 349,706 352,710 355,714 358,708 361,712 364,706 367,702 369,700 369,753"/>
<rect class="bd" x="219" y="684" width="150" height="69"/>
<line class="rd" x1="219" y1="726" x2="369" y2="726"/>
<polyline class="ln" points="221,740 224,736 227,728 230,732 233,724 236,716 239,710 241,704 244,712 247,708 250,718 253,722 256,716 259,724 262,720 265,726 268,718 271,702 274,706 277,712 280,716 283,712 286,718 289,714 292,708 295,702 298,706 301,698 304,704 307,700 310,706 313,702 316,700 319,696 322,700 325,704 328,710 331,712 334,706 337,704 340,700 343,706 346,712 349,706 352,710 355,714 358,708 361,712 364,706 367,702 369,700"/>
<text class="sym" x="221" y="680">^BSESN</text>
<text class="dt" x="368" y="680">Apr 27, 3:30pm IST</text>
<text class="ax" x="371" y="691">26,100</text><text class="ax" x="371" y="709">26,050</text><text class="ax" x="371" y="730">26,000</text><text class="ax" x="371" y="750">25,950</text>
<text class="ax" x="223" y="765">10am</text><text class="ax" x="270" y="765">12pm</text><text class="ax" x="320" y="765">2pm</text>
<text class="wm" x="223" y="748">© Yahoo!</text>

<!-- ============ NEW ZEALAND ============ -->
<rect x="418" y="672" width="190" height="95" fill="#fff"/>
<line class="gr" x1="465" y1="684" x2="465" y2="753.3"/><line class="gr" x1="510" y1="684" x2="510" y2="753.3"/><line class="gr" x1="555" y1="684" x2="555" y2="753.3"/>
<g transform="translate(410,420) scale(0.333333)"><polygon class="fl" points="33,1000 33,858 38,855 43,845 48,850 53,840 58,848 63,845 66,838 70,860 75,885 80,890 85,880 90,890 95,885 100,890 105,900 110,910 115,915 120,920 125,925 130,928 135,928 140,925 145,925 150,930 155,935 160,920 165,915 170,920 175,910 180,905 185,910 190,895 195,885 200,880 205,885 210,888 215,895 220,890 225,895 230,900 235,905 240,910 245,905 250,900 255,895 260,890 265,895 270,895 275,888 280,885 285,880 290,892 295,890 300,895 305,890 310,888 315,885 320,890 325,890 330,888 335,885 340,890 345,893 350,892 355,895 360,900 365,903 370,905 375,910 380,915 385,920 390,922 395,925 400,935 405,938 410,935 415,938 420,935 425,938 430,935 435,940 440,942 445,945 450,948 455,952 460,955 465,953 470,955 475,952 480,955 485,960 490,965 495,970 500,975 500,1000"/></g>
<rect class="bd" x="420.7" y="684" width="156.6" height="69.3"/>
<line class="rd" x1="420.7" y1="705.7" x2="577.3" y2="705.7"/>
<g transform="translate(410,420) scale(0.333333)"><polyline class="ln" points="33,858 38,855 43,845 48,850 53,840 58,848 63,845 66,838 70,860 75,885 80,890 85,880 90,890 95,885 100,890 105,900 110,910 115,915 120,920 125,925 130,928 135,928 140,925 145,925 150,930 155,935 160,920 165,915 170,920 175,910 180,905 185,910 190,895 195,885 200,880 205,885 210,888 215,895 220,890 225,895 230,900 235,905 240,910 245,905 250,900 255,895 260,890 265,895 270,895 275,888 280,885 285,880 290,892 295,890 300,895 305,890 310,888 315,885 320,890 325,890 330,888 335,885 340,890 345,893 350,892 355,895 360,900 365,903 370,905 375,910 380,915 385,920 390,922 395,925 400,935 405,938 410,935 415,938 420,935 425,938 430,935 435,940 440,942 445,945 450,948 455,952 460,955 465,953 470,955 475,952 480,955 485,960 490,965 495,970 500,975"/></g>
<text class="sym" x="421.7" y="680">^NZ50</text>
<text class="dt" x="575" y="680">Apr 27, 5:00pm NZST</text>
<text class="ax" x="580" y="690.5">6,820</text><text class="ax" x="580" y="704">6,800</text><text class="ax" x="580" y="720.5">6,780</text><text class="ax" x="580" y="738">6,760</text><text class="ax" x="580" y="752">6,740</text>
<text class="ax" x="418.3" y="765">10am</text><text class="ax" x="452.7" y="765">12pm</text><text class="ax" x="499.3" y="765">2pm</text><text class="ax" x="543.3" y="765">4pm</text>
<text class="wm" x="425" y="748.3">© Yahoo!</text>
</svg>
</body></html>
